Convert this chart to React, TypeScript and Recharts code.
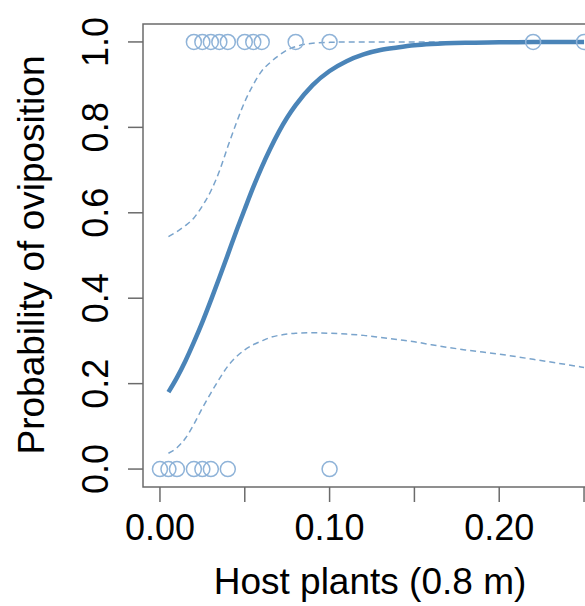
import React from 'react';
import { ComposedChart, XAxis, YAxis, Line, Scatter, ReferenceArea } from 'recharts';

// Curve x grid (host plants, 0.8 m)
const curveX = [0.005, 0.01, 0.015, 0.02, 0.025, 0.03, 0.035, 0.04, 0.045, 0.05, 0.055, 0.06, 0.065, 0.07, 0.075, 0.08, 0.09, 0.10, 0.11, 0.12, 0.13, 0.14, 0.15, 0.16, 0.18, 0.20, 0.22, 0.25];
// Fitted probability
const fitted = [0.180, 0.214, 0.253, 0.297, 0.344, 0.395, 0.448, 0.502, 0.557, 0.609, 0.660, 0.707, 0.750, 0.789, 0.823, 0.852, 0.899, 0.932, 0.955, 0.971, 0.981, 0.987, 0.992, 0.995, 0.998, 0.999, 1.0, 1.0];
// Upper confidence band
const upper = [0.544, 0.556, 0.570, 0.588, 0.616, 0.651, 0.697, 0.755, 0.810, 0.860, 0.900, 0.932, 0.952, 0.968, 0.981, 0.989, 0.997, 0.999, 1.0, 1.0, 1.0, 1.0, 1.0, 1.0, 1.0, 1.0, 1.0, 1.0];
// Lower confidence band
const lower = [0.037, 0.050, 0.072, 0.105, 0.143, 0.178, 0.211, 0.241, 0.263, 0.279, 0.291, 0.300, 0.308, 0.313, 0.316, 0.318, 0.319, 0.318, 0.316, 0.313, 0.308, 0.303, 0.298, 0.291, 0.279, 0.269, 0.257, 0.238];

// Observations
const presentX = [0.02, 0.025, 0.03, 0.035, 0.04, 0.05, 0.055, 0.06, 0.08, 0.10, 0.22, 0.25];
const absentX = [0.0, 0.005, 0.01, 0.02, 0.025, 0.03, 0.04, 0.10];

const xTicks = [0, 0.05, 0.10, 0.15, 0.20, 0.25];
const xTickLabels = ['0.00', '', '0.10', '', '0.20', ''];
const yTicks = [0, 0.2, 0.4, 0.6, 0.8, 1.0];
const yTickLabels = ['0.0', '0.2', '0.4', '0.6', '0.8', '1.0'];

const curveData = curveX.map((x, i) => ({ x, fit: fitted[i], hi: upper[i], lo: lower[i] }));
const pointData = [
  ...presentX.map((x) => ({ x, y: 1 })),
  ...absentX.map((x) => ({ x, y: 0 })),
];

const FONT = '"Liberation Sans", Arial, sans-serif';
const GRAY = '#6b6b6b';
const POINT = '#8fb3d8';
const CURVE = '#4a84b8';
const BAND = '#7aa4cc';

const XTick = (props: any) => {
  const { x, y, payload } = props;
  const idx = xTicks.findIndex((t) => Math.abs(t - payload.value) < 1e-9);
  const label = idx >= 0 ? xTickLabels[idx] : '';
  if (!label) return null;
  return (
    <text x={x} y={y + 36} textAnchor="middle" fontSize={36} fontFamily={FONT} fill="#000">
      {label}
    </text>
  );
};

const YTick = (props: any) => {
  const { x, y, payload } = props;
  const idx = yTicks.findIndex((t) => Math.abs(t - payload.value) < 1e-9);
  const label = idx >= 0 ? yTickLabels[idx] : '';
  const tx = x - 18;
  return (
    <text x={tx} y={y} transform={`rotate(-90, ${tx}, ${y})`} textAnchor="middle" fontSize={36} fontFamily={FONT} fill="#000">
      {label}
    </text>
  );
};

const XTitle = () => (
  <text x={362} y={586} textAnchor="middle" fontSize={37} fontFamily={FONT} fill="#000">
    Host plants (0.8 m)
  </text>
);

const YTitle = () => (
  <text x={36} y={247} transform="rotate(-90, 36, 247)" textAnchor="middle" fontSize={37} fontFamily={FONT} fill="#000">
    Probability of oviposition
  </text>
);

const Ring = (props: any) => {
  const { cx, cy } = props;
  return <circle cx={cx} cy={cy} r={7.5} fill="none" stroke={POINT} strokeWidth={1.5} />;
};

export default function App() {
  return (
    <div style={{ position: 'absolute', left: 8, top: 8, width: 577, height: 598, overflow: 'hidden' }}>
      <ComposedChart width={600} height={598} margin={{ top: 16, right: 7, bottom: 0, left: 0 }}>
        <XAxis
          dataKey="x"
          type="number"
          domain={[-0.01, 0.26]}
          ticks={xTicks}
          allowDataOverflow
          height={119}
          tickSize={15}
          axisLine={false}
          tickLine={{ stroke: GRAY, strokeWidth: 1.5 }}
          tick={<XTick />}
          interval={0}
          label={<XTitle />}
        />
        <YAxis
          type="number"
          domain={[-0.042, 1.042]}
          ticks={yTicks}
          allowDataOverflow
          width={135}
          tickSize={15}
          axisLine={false}
          tickLine={{ stroke: GRAY, strokeWidth: 1.5 }}
          tick={<YTick />}
          interval={0}
          label={<YTitle />}
        />
        <ReferenceArea x1={-0.01} x2={0.26} y1={-0.042} y2={1.042} fill="none" stroke={GRAY} strokeWidth={1.5} ifOverflow="visible" />
        <Line data={curveData} dataKey="hi" type="monotone" stroke={BAND} strokeWidth={1.5} strokeDasharray="6 4" dot={false} isAnimationActive={false} />
        <Line data={curveData} dataKey="lo" type="monotone" stroke={BAND} strokeWidth={1.5} strokeDasharray="6 4" dot={false} isAnimationActive={false} />
        <Line data={curveData} dataKey="fit" type="monotone" stroke={CURVE} strokeWidth={4.5} dot={false} isAnimationActive={false} />
        <Scatter data={pointData} dataKey="y" shape={<Ring />} isAnimationActive={false} />
      </ComposedChart>
    </div>
  );
}
